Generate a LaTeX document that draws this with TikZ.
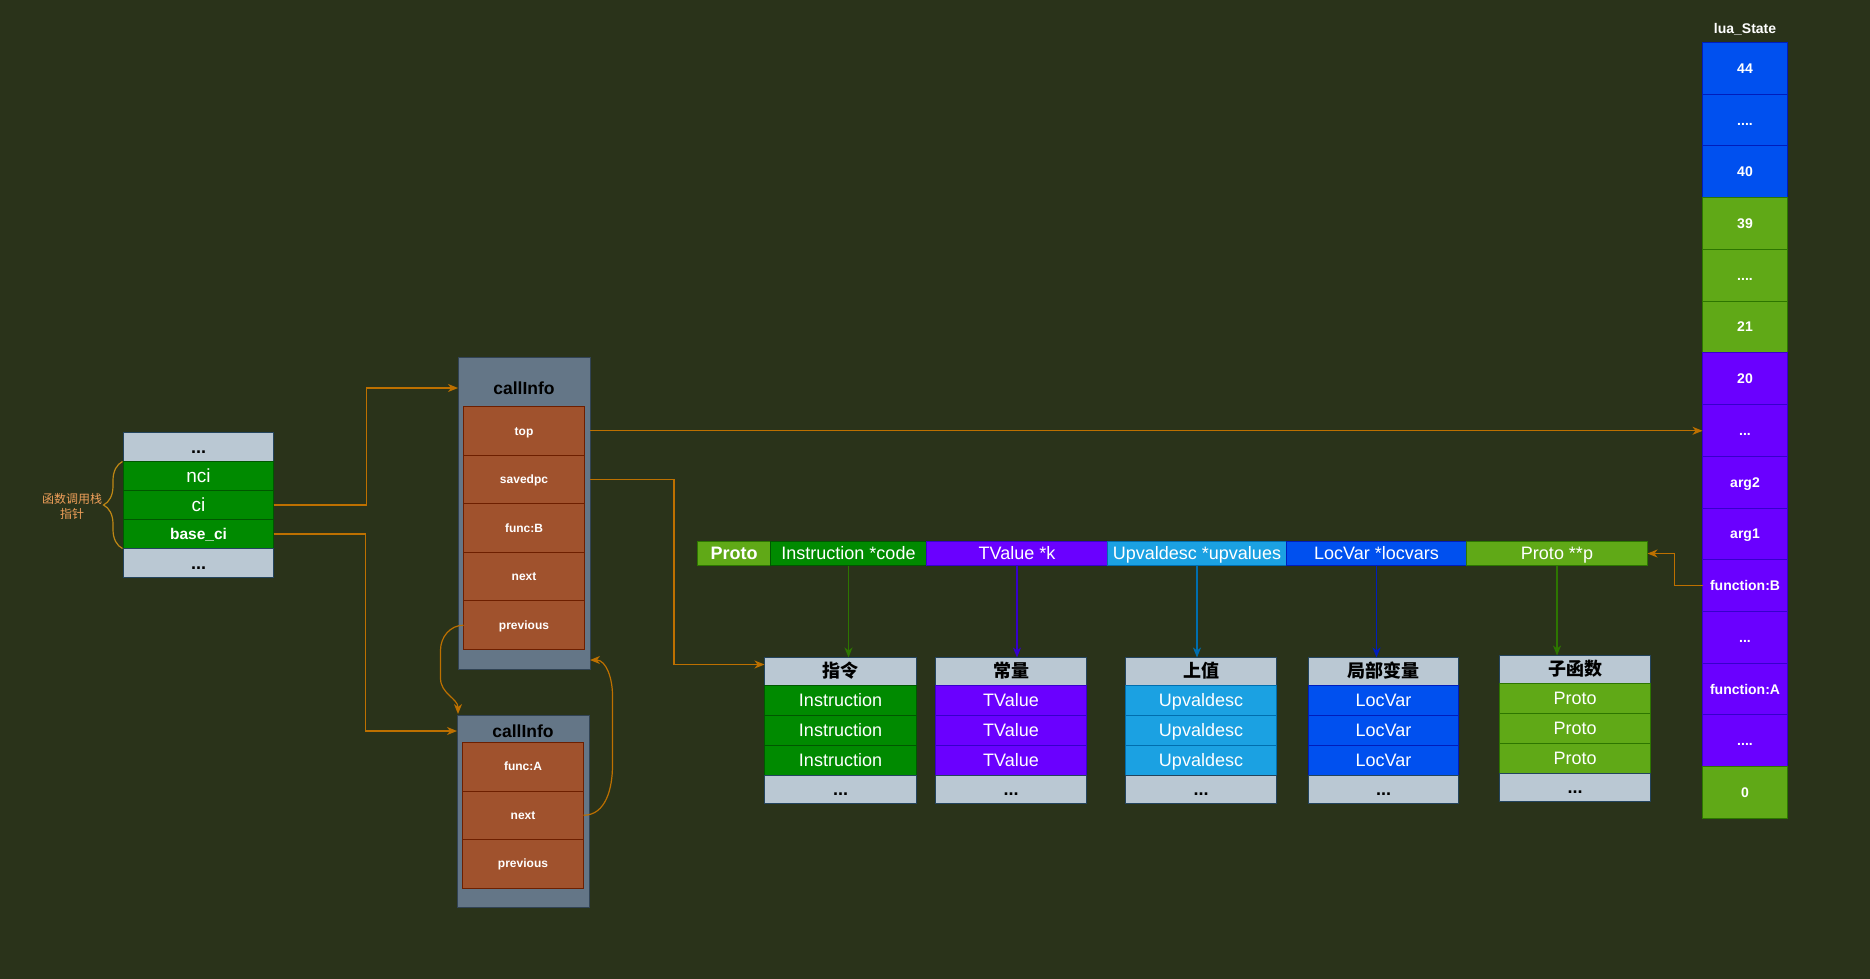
\documentclass[tikz,border=0pt]{standalone}
\usepackage{fontspec}
\setmainfont{Liberation Sans}
\newfontfamily\cjk{Noto Sans CJK SC}
\usepackage{tikz}
\usetikzlibrary{positioning,calc,fit
  ,matrix
  ,arrows.meta,decorations.pathreplacing}
\definecolor{bgolive}{RGB}{42,51,26}
\definecolor{slatefill}{RGB}{186,200,211}
\definecolor{slateline}{RGB}{35,68,93}
\definecolor{boxfill}{RGB}{100,118,135}
\definecolor{boxline}{RGB}{49,67,84}
\definecolor{rowfill}{RGB}{160,82,45}
\definecolor{rowline}{RGB}{109,31,0}
\definecolor{greenfill}{RGB}{0,138,0}
\definecolor{greenline}{RGB}{0,87,0}
\definecolor{limefill}{RGB}{96,169,23}
\definecolor{limeline}{RGB}{45,118,0}
\definecolor{purplefill}{RGB}{106,0,255}
\definecolor{purpleline}{RGB}{55,0,204}
\definecolor{bluefill}{RGB}{0,80,239}
\definecolor{blueline}{RGB}{0,29,188}
\definecolor{cyanfill}{RGB}{27,161,226}
\definecolor{cyanline}{RGB}{0,110,175}
\definecolor{linkorange}{RGB}{189,112,0}
\definecolor{bracegold}{RGB}{190,135,20}
\definecolor{notetext}{RGB}{240,160,90}
\newcommand{\setpx}[1]{\fontsize{#1}{#1}\selectfont}
\pgfdeclarelayer{background}
\pgfsetlayers{background,main}
\tikzset{
  luapic/.style={
    x=1pt
    ,y=-1pt
    ,inner sep=0pt
    ,outer sep=0pt
  }
  ,stack/.style={ column sep=-1pt, row sep=-1pt, inner sep=0pt, outer sep=0pt}
  ,px/.style={text height=\dimexpr #1pt*9/10\relax, text depth=\dimexpr #1pt*2/10\relax}
  ,cell/.style={draw, line width=1pt, inner sep=0pt, outer sep=0pt, align=center}
  ,dots/.style={cell,fill=slatefill,draw=slateline,font=\setpx{18}\bfseries,text=black,px=18}
  ,tabhead/.style={dots,font=\cjk\setpx{18}\bfseries,minimum height=28pt}
  ,tabdots/.style={dots,minimum height=28pt}
  ,greencell/.style={cell,fill=greenfill,draw=greenline,text=white,font=\setpx{18},px=18}
  ,limecell/.style={cell,fill=limefill,draw=limeline,text=white,font=\setpx{18},px=18}
  ,purplecell/.style={cell,fill=purplefill,draw=purpleline,text=white,font=\setpx{18},px=18}
  ,bluecell/.style={cell,fill=bluefill,draw=blueline,text=white,font=\setpx{18},px=18}
  ,cyancell/.style={cell,fill=cyanfill,draw=cyanline,text=white,font=\setpx{18},px=18}
  ,tabrow/.style={minimum height=30pt}
  ,cibox/.style={draw=boxline,line width=1pt,fill=boxfill,anchor=north west,minimum width=132pt}
  ,cititle/.style={font=\setpx{17.5}\bfseries,text=black}
  ,cirow/.style={cell,fill=rowfill,draw=rowline,text=white,font=\setpx{12}\bfseries,px=12}
  ,lscell/.style={text=white,font=\setpx{14}\bfseries,px=14}
  ,lsblue/.style={bluecell,lscell}
  ,lslime/.style={limecell,lscell}
  ,lspurple/.style={purplecell,lscell}
  ,lstitle/.style={text=white,font=\setpx{14}\bfseries}
  ,notelabel/.style={text=notetext,font=\cjk\fontsize{12}{15}\selectfont,align=center}
  ,link/.style={draw=linkorange,line width=1.2pt,-{Stealth[length=10pt,width=8pt,inset=3pt]}}
  ,downlink/.style={line width=1.2pt,-{Stealth[length=10pt,width=8pt,inset=3pt]}}
}
\begin{document}
\begin{tikzpicture}[luapic]
    \fill[bgolive] (0,0) rectangle (1870,979);
    \useasboundingbox (0,0) rectangle (1870,979);

    % call stack pointers
    \matrix[stack,anchor=north west,nodes={minimum width=150pt,minimum height=29pt}]
    (cistack) at (123,432) {
      \node[dots] (cs0) {...};\\
      \node[greencell,font=\setpx{19},px=19] (nci) {nci};\\
      \node[greencell,font=\setpx{19},px=19] (ci) {ci};\\
      \node[greencell,font=\setpx{15.5}\bfseries,px=15.5] (baseci) {base\_ci};\\
      \node[dots] (cs4) {...};\\
    };
    \draw[bracegold,line width=1.2pt,decorate,decoration={brace,amplitude=19pt}]
      ([xshift=-1pt]baseci.south west) -- ([xshift=-1pt]nci.north west);
    \node[notelabel,anchor=east] (cinote) at (102,506) {函数调用栈\\指针};

    % callInfo B
    \node[cibox,minimum height=312pt] (cib) at (458,357) {};
    \node[cititle] (cibname) at ([yshift=-31pt]cib.north) {callInfo};
    \matrix[stack,anchor=north,nodes={minimum width=121pt,minimum height=48.6pt}]
    (cibstack) at ([yshift=-49pt]cib.north) {
      \node[cirow] (cibtop) {top};\\
      \node[cirow] (cibpc) {savedpc};\\
      \node[cirow] (cibfunc) {func:B};\\
      \node[cirow] (cibnext) {next};\\
      \node[cirow] (cibprev) {previous};\\
    };

    % callInfo A
    \node[cibox,minimum height=192pt] (cia) at (457,715) {};
    \node[cititle] (cianame) at ([yshift=-16pt]cia.north) {callInfo};
    \matrix[stack,anchor=north,nodes={minimum width=121pt,minimum height=48.5pt}]
    (ciastack) at ([yshift=-27pt]cia.north) {
      \node[cirow] (ciafunc) {func:A};\\
      \node[cirow] (cianext) {next};\\
      \node[cirow] (ciaprev) {previous};\\
    };

    % Proto
    \matrix[stack,anchor=north west,nodes={minimum height=24pt}] (protobar) at (697,541) {
      \node[limecell,minimum width=73pt,font=\setpx{18}\bfseries] (bproto) {Proto};
      & \node[greencell,minimum width=156pt] (bcode) {Instruction *code};
      & \node[purplecell,minimum width=181pt] (bk) {TValue *k};
      & \node[cyancell,minimum width=179pt] (bupval) {Upvaldesc *upvalues};
      & \node[bluecell,minimum width=180pt] (blocvar) {LocVar *locvars};
      & \node[limecell,minimum width=181pt] (bp) {Proto **p};
      \\
    };

    \matrix[stack,anchor=north west,nodes={minimum width=152pt}] (codetab) at (764,657) {
      \node[tabhead] (codehead) {指令};\\
      \node[greencell,tabrow] (code1) {Instruction};\\
      \node[greencell,tabrow] (code2) {Instruction};\\
      \node[greencell,tabrow] (code3) {Instruction};\\
      \node[tabdots] (code4) {...};\\
    };
    \matrix[stack,anchor=north west,nodes={minimum width=151pt}] (ktab) at (935,657) {
      \node[tabhead] (khead) {常量};\\
      \node[purplecell,tabrow] (k1) {TValue};\\
      \node[purplecell,tabrow] (k2) {TValue};\\
      \node[purplecell,tabrow] (k3) {TValue};\\
      \node[tabdots] (k4) {...};\\
    };
    \matrix[stack,anchor=north west,nodes={minimum width=151pt}] (upvaltab) at (1125,657) {
      \node[tabhead] (upvalhead) {上值};\\
      \node[cyancell,tabrow] (upval1) {Upvaldesc};\\
      \node[cyancell,tabrow] (upval2) {Upvaldesc};\\
      \node[cyancell,tabrow] (upval3) {Upvaldesc};\\
      \node[tabdots] (upval4) {...};\\
    };
    \matrix[stack,anchor=north west,nodes={minimum width=150pt}] (locvartab) at (1308,657) {
      \node[tabhead] (locvarhead) {局部变量};\\
      \node[bluecell,tabrow] (locvar1) {LocVar};\\
      \node[bluecell,tabrow] (locvar2) {LocVar};\\
      \node[bluecell,tabrow] (locvar3) {LocVar};\\
      \node[tabdots] (locvar4) {...};\\
    };
    \matrix[stack,anchor=north west,nodes={minimum width=151pt}] (subtab) at (1499,655) {
      \node[tabhead] (subhead) {子函数};\\
      \node[limecell,tabrow] (sub1) {Proto};\\
      \node[limecell,tabrow] (sub2) {Proto};\\
      \node[limecell,tabrow] (sub3) {Proto};\\
      \node[tabdots] (sub4) {...};\\
    };

    % lua_State stack
    \matrix[stack,anchor=north west,nodes={minimum width=85pt,minimum height=51.73pt}]
    (luastack) at (1702,42) {
      \node[lsblue] (ls44) {44};\\
      \node[lsblue] (lsdotsa) {....};\\
      \node[lsblue] (ls40) {40};\\
      \node[lslime] (ls39) {39};\\
      \node[lslime] (lsdotsb) {....};\\
      \node[lslime] (ls21) {21};\\
      \node[lspurple] (ls20) {20};\\
      \node[lspurple] (lsdotsc) {...};\\
      \node[lspurple] (lsarg2) {arg2};\\
      \node[lspurple] (lsarg1) {arg1};\\
      \node[lspurple] (lsfuncb) {function:B};\\
      \node[lspurple] (lsdotsd) {...};\\
      \node[lspurple] (lsfunca) {function:A};\\
      \node[lspurple] (lsdotse) {....};\\
      \node[lslime] (ls0) {0};\\
    };
    \node[lstitle,above=7pt of luastack] (lsname) {lua\_State};

    % connectors
    \draw[link] (ci.east) -- ++(93,0) |- (cib.west |- cibname);
    \draw[link] (baseci.east) -- ++(92,0) |- (cia.west |- cianame);
    \draw[link] (cib.east |- cibtop) -- (cibtop -| lsdotsc.west);
    \draw[link] (cib.east |- cibpc) -- ++(84,0) |- ([yshift=7pt]codehead.west);
    \draw[link] (lsfuncb.west) -- ++(-28,0) |- (bp.east);
    \draw[link] (cibprev.west) to[out=180,in=90] ++(-23,25) -- ++(0,28)
      to[out=-90,in=90] ([xshift=1pt,yshift=1pt]cia.north west);
    \draw[link] (cianext.east) to[out=0,in=-90] ++(29,-50) -- ++(0,-70)
      to[out=90,in=0] ([yshift=9pt]cib.south east);

    \draw[downlink,limeline] (bcode.south) -- (bcode.south |- codehead.north);
    \draw[downlink,purpleline] (bk.south) -- (bk.south |- khead.north);
    \draw[downlink,cyanline] (bupval.south) -- (bupval.south |- upvalhead.north);
    \draw[downlink,blueline] (blocvar.south) -- (blocvar.south |- locvarhead.north);
    \draw[downlink,limeline] (bp.south) -- (bp.south |- subhead.north);
\end{tikzpicture}
\end{document}
